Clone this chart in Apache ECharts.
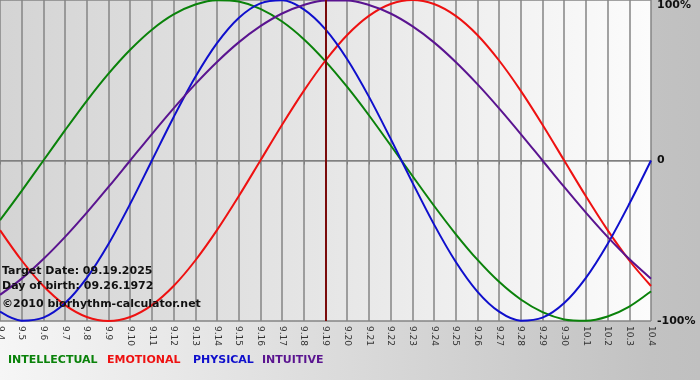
<!DOCTYPE html>
<html>
<head>
<meta charset="utf-8">
<script src="https://cdn.jsdelivr.net/npm/echarts@6/dist/echarts.min.js"></script>
<style>
html,body{margin:0;padding:0;}
#chart{width:700px;height:380px;}
</style>
</head>
<body>
<div id="chart"></div>
<script>
// Dates (category axis)
var categories = ['9.4','9.5','9.6','9.7','9.8','9.9','9.10','9.11','9.12','9.13','9.14','9.15','9.16','9.17','9.18','9.19','9.20','9.21','9.22','9.23','9.24','9.25','9.26','9.27','9.28','9.29','9.30','10.1','10.2','10.3','10.4'];
// Series values in percent
var intellectual = [-37.2,-18.9,0,18.9,37.2,54.1,69.0,81.5,91.0,97.2,99.9,99.0,94.5,86.6,75.6,61.8,45.8,28.2,9.5,-9.5,-28.2,-45.8,-61.8,-75.6,-86.6,-94.5,-99.0,-99.9,-97.2,-91.0,-81.5];
var emotional = [-43.4,-62.3,-78.2,-90.1,-97.5,-100,-97.5,-90.1,-78.2,-62.3,-43.4,-22.3,0,22.3,43.4,62.3,78.2,90.1,97.5,100,97.5,90.1,78.2,62.3,43.4,22.3,0,-22.3,-43.4,-62.3,-78.2];
var physical = [-94.2,-99.8,-97.9,-88.8,-73.1,-52.0,-27.0,0,27.0,52.0,73.1,88.8,97.9,99.8,94.2,81.7,63.1,39.8,13.6,-13.6,-39.8,-63.1,-81.7,-94.2,-99.8,-97.9,-88.8,-73.1,-52.0,-27.0,0];
var intuitive = [-83.7,-73.6,-61.4,-47.6,-32.5,-16.5,0,16.5,32.5,47.6,61.4,73.6,83.7,91.6,96.9,99.7,99.7,96.9,91.6,83.7,73.6,61.4,47.6,32.5,16.5,0,-16.5,-32.5,-47.6,-61.4,-73.6];
var targetDate = '9.19';
var seriesNames = ['INTELLECTUAL','EMOTIONAL','PHYSICAL','INTUITIVE'];
var infoLines = ['Target Date: 09.19.2025','Day of birth: 09.26.1972','\u00A92010 biorhythm-calculator.net'];

var colors = ['#0a820a','#ee1111','#0f0fcc','#5a1490'];
var chart = echarts.init(document.getElementById('chart'), null, {renderer:'canvas'});

function lineSeries(name, data, color, extra) {
  var s = {
    name: name, type: 'line', data: data, smooth: 0.33, symbol: 'none',
    lineStyle: {color: color, width: 2}, itemStyle: {color: color}, z: 3
  };
  if (extra) for (var k in extra) s[k] = extra[k];
  return s;
}

var legendX = [8, 107, 193, 262];
var graphics = [];
seriesNames.forEach(function(n, i){
  graphics.push({type:'text', left: legendX[i], top: 355, z: 10,
    style:{text:n, fill: colors[i], font:'bold 11px "DejaVu Sans"'}});
});
var infoTops = [266, 281, 299];
infoLines.forEach(function(t, i){
  graphics.push({type:'text', left: 2, top: infoTops[i], z: 10,
    style:{text:t, fill:'#111', font: 'bold 11px "DejaVu Sans"'}});
});

var option = {
  animation: false,
  backgroundColor: {type:'linear', x:0, y:0, x2:1, y2:0,
    colorStops:[{offset:0,color:'#f6f6f6'},{offset:0.93,color:'#c2c2c2'},{offset:1,color:'#c0c0c0'}]},
  grid: {left: 0, right: 49, top: 0, bottom: 59, show: true, borderWidth: 0,
    containLabel: false, outerBoundsMode: 'none',
    backgroundColor: {type:'linear', x:0, y:0, x2:1, y2:0,
      colorStops:[{offset:0,color:'#d4d4d4'},{offset:0.5,color:'#e6e6e6'},{offset:1,color:'#fcfcfc'}]}},
  xAxis: {
    type: 'category', data: categories, boundaryGap: false,
    axisLine: {show: true, lineStyle:{color:'#808080', width:1}},
    axisTick: {show: true, interval: 0, length: 4, lineStyle:{color:'#808080'}},
    splitLine: {show: true, interval: 0, lineStyle:{color:'#858585', width: 1.5}},
    axisLabel: {interval: 0, rotate: -90, margin: 5, color:'#333', fontSize: 9, fontFamily:'DejaVu Sans'}
  },
  yAxis: {
    type: 'value', position: 'right', min: -100, max: 100, interval: 100,
    axisLine: {show: false}, axisTick: {show: false},
    splitLine: {show: true, lineStyle:{color:'#858585', width: 1.5}},
    axisLabel: {margin: 6, color:'#111', fontWeight:'bold', fontSize: 11, fontFamily:'DejaVu Sans',
      verticalAlignMaxLabel: 'top',
      formatter: function(v){ return v === 0 ? '0' : v + '%'; }}
  },
  graphic: graphics,
  series: [
    lineSeries(seriesNames[0], intellectual, colors[0]),
    lineSeries(seriesNames[1], emotional, colors[1]),
    lineSeries(seriesNames[2], physical, colors[2]),
    lineSeries(seriesNames[3], intuitive, colors[3], {
      markLine: {silent: true, symbol: 'none', label:{show:false},
        lineStyle:{color:'#7a0a0a', width: 2, type:'solid'},
        data: [{xAxis: targetDate}]}
    })
  ]
};
chart.setOption(option);
</script>
</body>
</html>
